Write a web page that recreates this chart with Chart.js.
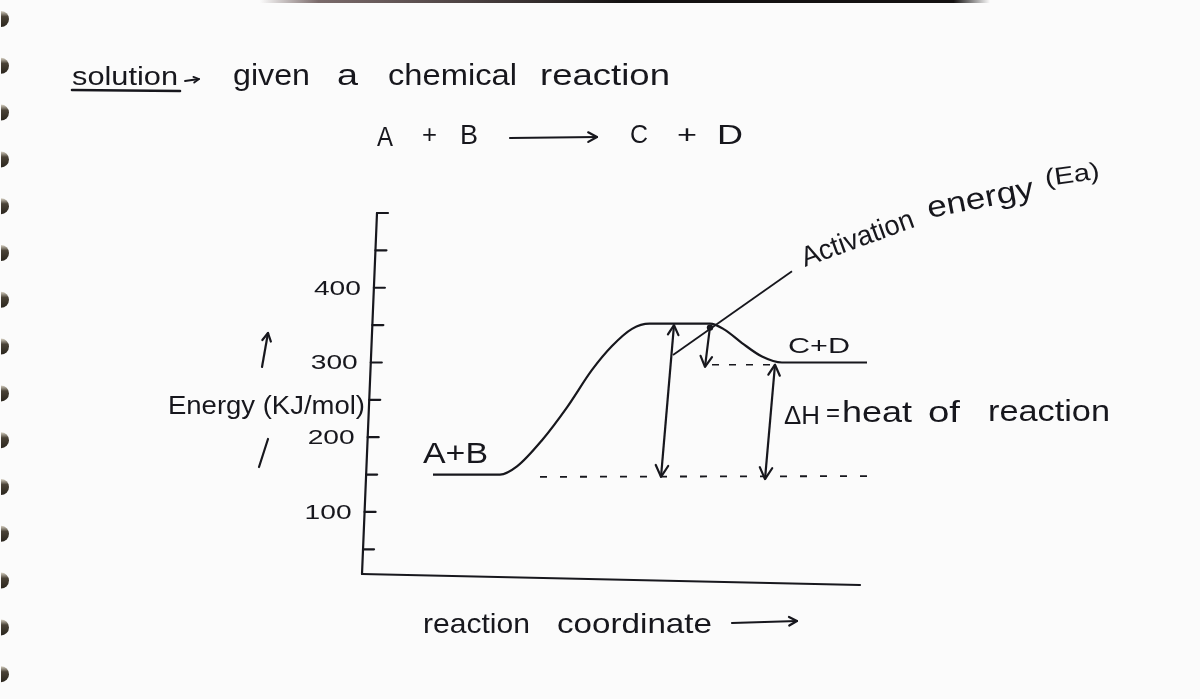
<!DOCTYPE html>
<html>
<head>
<meta charset="utf-8">
<script src="https://cdn.jsdelivr.net/npm/chart.js@4.4.1/dist/chart.umd.min.js"></script>
<style>
  html, body { margin: 0; padding: 0; background: #fcfcfc; }
  #wrap { width: 1200px; height: 699px; }
</style>
</head>
<body>
<div id="wrap"><canvas id="c" width="1200" height="699"></canvas></div>
<script>
// ---------------- DATA ----------------
const reactionCoord = [14.2, 27.6, 31, 36, 41, 46, 50, 54, 57.5, 69.6, 72.5, 76, 80, 84, 101];
const energy        = [150, 150, 161, 196, 240, 290, 322, 345, 352, 352, 344, 326, 308, 300, 300];

const reactantDashX = [35.6, 102.6];
const reactantDashY = [147, 148];
const productDashX  = [70, 83.2];
const productDashY  = [297, 297];

const eaArrowX = [62.4, 59.8];
const eaArrowY = [350, 147];
const dropArrowX = [69.6, 68.6];
const dropArrowY = [348, 294];
const dhArrowX = [82.6, 80.6];
const dhArrowY = [297, 144];
const leaderX = [62.2, 86];
const leaderY = [310, 422];

const yTicks = [50, 100, 150, 200, 250, 300, 350, 400, 450, 500];
const yTickLabels = { 100: "100", 200: "200", 300: "300", 400: "400" };
const yMin = 17, yMax = 500, xMin = 0, xMax = 104, xAxisEnd = 99.6;

const INK = "#17171d";
const FONT = '"Liberation Sans", Arial, sans-serif';

function pts(xs, ys) { return xs.map((x, i) => ({ x: x, y: ys[i] })); }

function lineDs(label, data, extra) {
  return Object.assign({
    label: label, data: data, showLine: true, borderColor: INK, borderWidth: 2.2,
    pointRadius: 0, fill: false, tension: 0, clip: false
  }, extra || {});
}

// ---------------- HELPERS ----------------
function fitText(ctx, str, x0, x1, baseY, size) {
  ctx.font = size + "px " + FONT;
  const w = ctx.measureText(str).width;
  const s = (x1 - x0) / w;
  ctx.save();
  ctx.translate(x0, baseY);
  ctx.scale(s, 1);
  ctx.fillText(str, 0, 0);
  ctx.restore();
}
function rotText(ctx, str, x, y, angDeg, len, size) {
  ctx.font = size + "px " + FONT;
  const w = ctx.measureText(str).width;
  ctx.save();
  ctx.translate(x, y);
  ctx.rotate(angDeg * Math.PI / 180);
  ctx.scale(len / w, 1);
  ctx.fillText(str, 0, 0);
  ctx.restore();
}
function head(ctx, fx, fy, tx, ty, size) {
  const a = Math.atan2(ty - fy, tx - fx);
  const h = 0.5;
  ctx.beginPath();
  ctx.moveTo(tx - size * Math.cos(a - h), ty - size * Math.sin(a - h));
  ctx.lineTo(tx, ty);
  ctx.lineTo(tx - size * Math.cos(a + h), ty - size * Math.sin(a + h));
  ctx.stroke();
}
function seg(ctx, x0, y0, x1, y1) {
  ctx.beginPath(); ctx.moveTo(x0, y0); ctx.lineTo(x1, y1); ctx.stroke();
}

// ---------------- PLUGIN ----------------
const decor = {
  id: "decor",
  beforeDraw(chart) {
    const ctx = chart.ctx;
    ctx.save();
    ctx.fillStyle = "#fbfbfb";
    ctx.fillRect(0, 0, chart.width, chart.height);
    // top dark edge
    const g = ctx.createLinearGradient(260, 0, 990, 0);
    g.addColorStop(0, "rgba(90,70,70,0)");
    g.addColorStop(0.08, "rgba(90,70,70,0.8)");
    g.addColorStop(0.5, "rgba(20,18,18,1)");
    g.addColorStop(0.95, "rgba(20,18,18,1)");
    g.addColorStop(1, "rgba(20,18,18,0)");
    ctx.fillStyle = g;
    ctx.fillRect(260, 0, 730, 3);
    // spiral rings at left edge
    for (let i = 0; i < 15; i++) {
      const cy = 19 + 46.8 * i;
      const rg = ctx.createLinearGradient(0, cy - 8, 0, cy + 8);
      rg.addColorStop(0, "#d8d2c4");
      rg.addColorStop(0.35, "#4a4236");
      rg.addColorStop(1, "#2a251d");
      ctx.fillStyle = rg;
      ctx.beginPath();
      ctx.ellipse(1, cy, 8, 8, 0, -Math.PI / 2, Math.PI / 2);
      ctx.closePath();
      ctx.fill();
    }
    ctx.restore();
  },
  afterDatasetsDraw(chart) {
    const ctx = chart.ctx;
    const xs = chart.scales.x, ys = chart.scales.y;
    const ca = chart.chartArea;
    ctx.save();
    ctx.strokeStyle = INK;
    ctx.fillStyle = INK;
    ctx.lineWidth = 2.2;
    ctx.lineCap = "round";
    ctx.lineJoin = "round";

    // arrowheads from dataset points
    const metaPts = (idx) => chart.getDatasetMeta(idx).data;
    const ea = metaPts(3);
    head(ctx, ea[0].x, ea[0].y, ea[1].x, ea[1].y, 13);
    head(ctx, ea[1].x, ea[1].y, ea[0].x, ea[0].y, 11);
    const dr = metaPts(4);
    head(ctx, dr[0].x, dr[0].y, dr[1].x, dr[1].y, 12);
    const dh = metaPts(5);
    head(ctx, dh[0].x, dh[0].y, dh[1].x, dh[1].y, 13);
    head(ctx, dh[1].x, dh[1].y, dh[0].x, dh[0].y, 12);
    // peak dot
    ctx.beginPath(); ctx.arc(dr[0].x, dr[0].y + 1, 3.2, 0, Math.PI * 2); ctx.fill();

    // y axis (slightly slanted, hand drawn)
    const slant = 15;
    const axisX = (py) => ca.left + (ca.bottom - py) / (ca.bottom - ca.top) * slant;
    const topPy = ys.getPixelForValue(yMax);
    seg(ctx, axisX(topPy), topPy, ca.left, ca.bottom);
    // x axis
    const xEnd = xs.getPixelForValue(xAxisEnd);
    seg(ctx, ca.left, ca.bottom, xEnd, ca.bottom + 11);
    // y ticks (inward) and labels
    yTicks.forEach(v => {
      const py = ys.getPixelForValue(v);
      const ax = axisX(py);
      seg(ctx, ax, py, ax + 11, py);
      if (yTickLabels[v]) {
        const r = ax - 13;
        fitText(ctx, yTickLabels[v], r - 47, r, py + 7, 20);
      }
    });

    // ---- texts ----
    // heading
    fitText(ctx, "solution", 72, 178, 85, 26);
    ctx.lineWidth = 2.6;
    seg(ctx, 72, 90, 180, 91);
    ctx.lineWidth = 1.8;
    seg(ctx, 185, 81, 199, 79); head(ctx, 185, 81, 199, 79, 6);
    fitText(ctx, "given", 233, 310, 85, 30);
    fitText(ctx, "a", 337, 358, 85, 30);
    fitText(ctx, "chemical", 388, 517, 85, 30);
    fitText(ctx, "reaction", 540, 670, 85, 30);
    // equation
    fitText(ctx, "A", 377, 393, 146, 28);
    fitText(ctx, "+", 422, 437, 143, 26);
    fitText(ctx, "B", 460, 478, 144, 28);
    ctx.lineWidth = 2.2;
    seg(ctx, 510, 138, 597, 137); head(ctx, 510, 138, 597, 137, 10);
    fitText(ctx, "C", 630, 648, 143, 26);
    fitText(ctx, "+", 677, 697, 143, 26);
    fitText(ctx, "D", 717, 743, 144, 28);

    // y axis title
    fitText(ctx, "Energy (KJ/mol)", 168, 365, 414, 25);
    seg(ctx, 262, 367, 268, 333); head(ctx, 262, 367, 268, 333, 9);
    seg(ctx, 268, 439, 259, 467);

    // x axis title
    fitText(ctx, "reaction", 423, 530, 633, 28);
    fitText(ctx, "coordinate", 557, 712, 633, 28);
    seg(ctx, 732, 623, 797, 621); head(ctx, 732, 623, 797, 621, 9);

    // species labels
    fitText(ctx, "A+B", 423, 488, 463, 29);
    fitText(ctx, "C+D", 788, 850, 353, 22);

    // delta H label
    fitText(ctx, "\u0394H", 784, 820, 424, 25);
    fitText(ctx, "=", 826, 840, 421, 25);
    fitText(ctx, "heat", 842, 912, 422, 30);
    fitText(ctx, "of", 928, 960, 422, 30);
    fitText(ctx, "reaction", 988, 1110, 421, 30);

    // activation energy label
    rotText(ctx, "Activation", 805, 267, -20, 118, 28);
    rotText(ctx, "energy", 929, 218, -11, 108, 30);
    rotText(ctx, "(Ea)", 1046, 186, -8, 55, 24);

    ctx.restore();
  }
};

// ---------------- CHART ----------------
new Chart(document.getElementById("c"), {
  type: "scatter",
  data: {
    datasets: [
      lineDs("Energy", pts(reactionCoord, energy), { cubicInterpolationMode: "monotone", tension: 0.4 }),
      lineDs("Reactant level", pts(reactantDashX, reactantDashY), { borderDash: [7, 13], borderWidth: 1.8 }),
      lineDs("Product level", pts(productDashX, productDashY), { borderDash: [7, 10], borderWidth: 1.6 }),
      lineDs("Ea", pts(eaArrowX, eaArrowY)),
      lineDs("Peak to product", pts(dropArrowX, dropArrowY)),
      lineDs("Delta H", pts(dhArrowX, dhArrowY)),
      lineDs("Leader", pts(leaderX, leaderY), { borderWidth: 1.8 })
    ]
  },
  options: {
    responsive: false,
    devicePixelRatio: 1,
    animation: false,
    layout: { padding: { left: 362, top: 213, right: 318, bottom: 125 } },
    scales: {
      x: { type: "linear", min: xMin, max: xMax, display: false },
      y: { type: "linear", min: yMin, max: yMax, display: false }
    },
    plugins: { legend: { display: false }, tooltip: { enabled: false } }
  },
  plugins: [decor]
});
</script>
</body>
</html>
